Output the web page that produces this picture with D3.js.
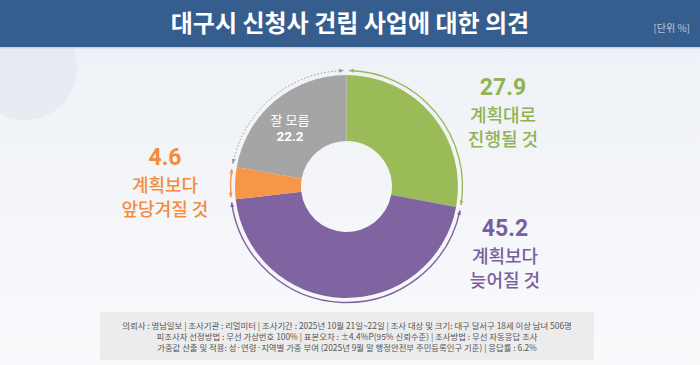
<!DOCTYPE html>
<html><head><meta charset="utf-8">
<script src="https://cdn.jsdelivr.net/npm/d3@7/dist/d3.min.js"></script>
<style>
html,body{margin:0;padding:0;}
body{width:700px;height:365px;overflow:hidden;font-family:"Noto Sans CJK KR","Noto Sans",sans-serif;}
</style></head><body>
<svg id="c" width="700" height="365"></svg>
<script>
const title = "대구시 신청사 건립 사업에 대한 의견";
const unitLabel = "[단위 %]";
const categories = ["계획대로 진행될 것", "계획보다 늦어질 것", "계획보다 앞당겨질 것", "잘 모름"];
const values = [27.9, 45.2, 4.6, 22.2];
const sliceColors = ["#9bbb59", "#8064a2", "#f79646", "#a5a5a5"];
const labelColors = ["#8fb352", "#7a5e9e", "#f28c3e", "#ffffff"];
const labelLines = [["계획대로", "진행될 것"], ["계획보다", "늦어질 것"], ["계획보다", "앞당겨질 것"], ["잘 모름"]];
const footnotes = [
  "의뢰사 : 영남일보  | 조사기관 : 리얼미터  |  조사기간 : 2025년 10월 21일~22일 | 조사 대상 및 크기: 대구 달서구 18세 이상 남녀 506명",
  "피조사자  선정방법 : 무선 가상번호  100% | 표본오차 : ±4.4%P(95%  신뢰수준) | 조사방법 : 무선 자동응답  조사",
  "가중값 산출 및 적용: 성·연령·지역별  가중 부여 (2025년 9월 말 행정안전부  주민등록인구  기준) | 응답률 : 6.2%"
];

const svg = d3.select("#c");
const defs = svg.append("defs");
const bg = defs.append("linearGradient").attr("id","bg").attr("x1",0).attr("y1",0).attr("x2",0).attr("y2",1);
bg.append("stop").attr("offset","0%").attr("stop-color","#edf0f5");
bg.append("stop").attr("offset","100%").attr("stop-color","#f9fafc");
svg.append("rect").attr("width",700).attr("height",365).attr("fill","url(#bg)");
// decorative faint circle
svg.append("circle").attr("cx",25).attr("cy",68).attr("r",52).attr("fill","#e2e7ef").attr("opacity",0.7);

// header
svg.append("rect").attr("x",0).attr("y",0).attr("width",700).attr("height",47).attr("fill","#355e8e");
svg.append("rect").attr("x",0).attr("y",47).attr("width",700).attr("height",1.5).attr("fill","#c9d3e2");
svg.append("text").attr("x",350).attr("y",32).attr("text-anchor","middle")
  .attr("font-size",24).attr("font-weight",700).attr("fill","#ffffff").text(title);
svg.append("text").attr("x",690).attr("y",32).attr("text-anchor","end")
  .attr("font-size",10).attr("fill","#b9c6da").text(unitLabel);

// donut
const cx = 346.5, cy = 186.5, rOuter = 111.5, rInner = 45.5, rRing = 116;
const pie = d3.pie().sort(null).value(d => d)(values);
const arc = d3.arc().innerRadius(rInner).outerRadius(rOuter);
const g = svg.append("g").attr("transform",`translate(${cx},${cy})`);
g.selectAll("path.slice").data(pie).join("path").attr("class","slice")
  .attr("d",arc).attr("fill",(d,i)=>sliceColors[i]);

// outline arcs with arrowheads
sliceColors.forEach((c,i)=>{
  const m = defs.append("marker").attr("id","m"+i).attr("viewBox","0 0 10 10")
    .attr("refX",9).attr("refY",5).attr("markerWidth",5).attr("markerHeight",5)
    .attr("orient","auto-start-reverse").attr("markerUnits","userSpaceOnUse");
  m.append("path").attr("d","M0,1 L10,5 L0,9 Z").attr("fill",i===3?"#9a9a9a":c);
});
const pad = 0.025;
pie.forEach((d,i)=>{
  const p = d3.path();
  p.arc(0,0,rRing,d.startAngle+pad-Math.PI/2,d.endAngle-pad-Math.PI/2);
  g.append("path").attr("d",p.toString()).attr("fill","none")
    .attr("stroke", i===3?"#9a9a9a":sliceColors[i]).attr("stroke-width",i===3?1:1.4)
    .attr("stroke-dasharray", i===3?"1.5,2":null)
    .attr("marker-start",`url(#m${i})`).attr("marker-end",`url(#m${i})`);
});

// outside labels
const outside = [
  {i:0, x:503, y:95},
  {i:1, x:505, y:236},
  {i:2, x:165, y:165}
];
outside.forEach(o=>{
  const t = svg.append("text").attr("text-anchor","middle").attr("fill",labelColors[o.i]);
  t.append("tspan").attr("x",o.x).attr("y",o.y).attr("font-size",23).attr("font-weight",700)
    .attr("font-family","Roboto, 'Noto Sans', sans-serif").text(values[o.i].toFixed(1));
  labelLines[o.i].forEach((ln,k)=>{
    t.append("tspan").attr("x",o.x).attr("y",o.y+27+k*24).attr("font-size",18).attr("font-weight",500).text(ln);
  });
});
// inside label for 잘 모름
const gt = svg.append("text").attr("text-anchor","middle").attr("fill","#ffffff");
gt.append("tspan").attr("x",290).attr("y",125).attr("font-size",13).text(labelLines[3][0]);
gt.append("tspan").attr("x",290).attr("y",141).attr("font-size",13.5).attr("font-weight",700)
  .attr("font-family","Roboto, 'Noto Sans', sans-serif").text(values[3].toFixed(1));

// footnote box
svg.append("rect").attr("x",100).attr("y",312).attr("width",494).attr("height",48).attr("fill","#ececec");
footnotes.forEach((f,k)=>{
  svg.append("text").attr("x",347).attr("y",328.5+k*11).attr("text-anchor","middle")
    .attr("font-size",8.4).attr("fill","#555555").text(f);
});
</script>
</body></html>
